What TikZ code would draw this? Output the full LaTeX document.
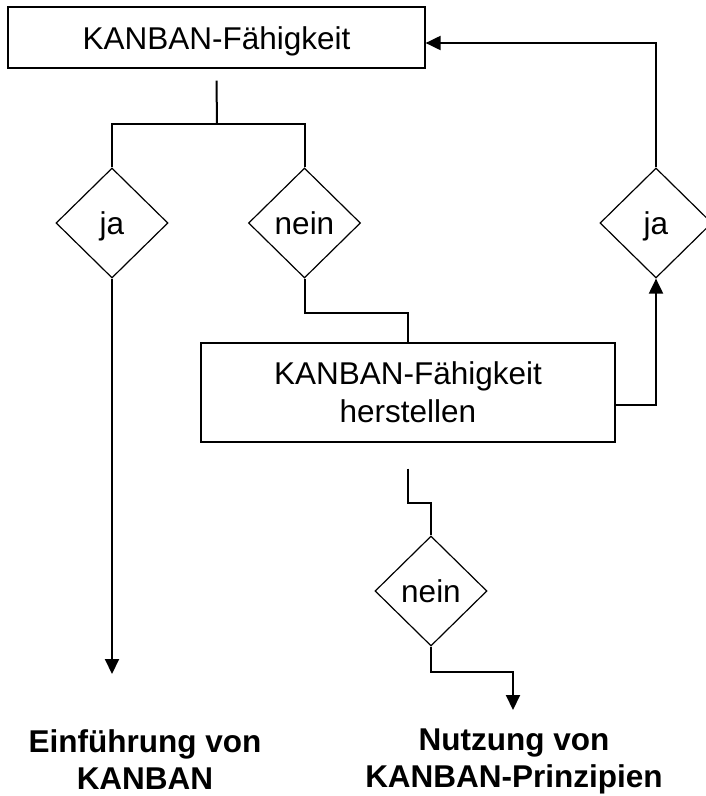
\documentclass[tikz,border=0pt]{standalone}
\usepackage{fontspec}
\setmainfont{Liberation Sans}
\usetikzlibrary{arrows.meta, shapes.geometric, positioning}

\begin{document}
\begin{tikzpicture}[
    x=1pt, y=-1pt,
    font=\fontsize{31.5}{37.8}\selectfont,
    >={Triangle[length=15pt, width=14pt]},
    kasten/.style={draw, line width=1.2pt, inner sep=0pt, align=center},
    raute/.style={diamond, draw, line width=1.2pt, inner sep=0pt,
                  minimum width=112pt, minimum height=110pt,
                  text height=23pt, text depth=0pt},
    link/.style={line width=2pt},
    flow/.style={link, ->},
    ziel/.style={font=\fontsize{31.5}{37}\selectfont\bfseries, align=center,
                 inner sep=0pt, anchor=north}
]
\useasboundingbox (0,0) rectangle (706,796);

% --- Boxes ---
\node[kasten, minimum width=417pt, minimum height=61pt, text height=23pt, text depth=0pt]
    (cap) at (216.5,37.5) {KANBAN-Fähigkeit};
\node[kasten, minimum width=414pt, minimum height=99pt]
    (herst) at (408,392.5) {KANBAN-Fähigkeit\\herstellen};

% --- Decisions ---
\node[raute] (jaL)   at (112,223)   {ja};
\node[raute] (neinL) at (304.5,223) {nein};
\node[raute] (jaR)   at (656,223)   {ja};
\node[raute] (neinB) at (431,591)   {nein};

% --- Results ---
\node[ziel] (intro) at (145,729) {Einführung von\\KANBAN};
\node[ziel] (nutz)  at (514,729) {Nutzung von\\KANBAN-Prinzipien};

% --- Free ends ---
\coordinate (capout)   at ([yshift=-12pt]cap.south);
\coordinate (fork)     at (217,124);
\coordinate (herstout) at ([yshift=-26pt]herst.south);
\coordinate (endL)     at (112,674);
\coordinate (endR)     at (513,710);

% --- Connectors ---
\draw[link] (capout) -- (fork);
\draw[link] (jaL.north) |- (fork) -| (neinL.north);
\draw[flow] (jaL.south) -- (endL);
\draw[link] (neinL.south) -- ++(0,34) -| (herst.north);
\draw[flow] ([yshift=-12.5pt]herst.east) -| (jaR.south);
\draw[flow] (jaR.north) |- ([yshift=-5.5pt]cap.east);
\draw[link] (herstout) -- ++(0,34) -| (neinB.north);
\draw[flow] (neinB.south) -- ++(0,25) -| (endR);

\end{tikzpicture}
\end{document}
